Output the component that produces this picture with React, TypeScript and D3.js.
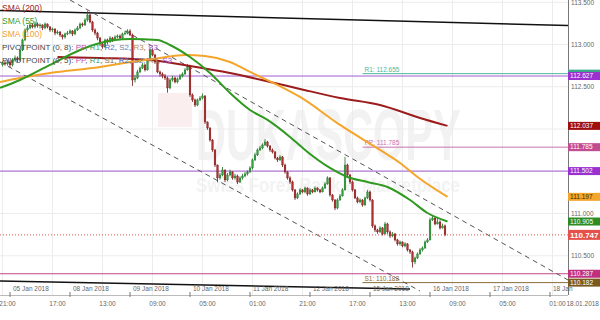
import React from 'react';
import * as d3 from 'd3';

// ---- DATA ----
const firstHour = -3; // hours relative to 05 Jan 2018 00:00 (trading hours only)
const firstOpen = 112.76;
const closes = [
  112.782,112.770,112.793,112.758,112.817,112.841,112.817,112.935,113.054,113.172,
  113.196,113.231,113.208,113.243,113.220,113.231,113.196,113.243,113.208,113.172,
  113.184,113.136,113.148,113.113,113.089,113.125,113.136,113.160,113.125,113.172,
  113.196,113.243,113.231,113.290,113.350,113.267,113.172,113.136,113.077,113.006,
  112.971,113.054,113.030,113.077,113.054,113.089,113.101,113.077,113.125,113.136,
  113.160,113.113,112.580,112.604,112.675,112.722,112.758,112.699,112.817,112.935,
  112.876,112.793,112.675,112.651,112.628,112.604,112.486,112.580,112.604,112.557,
  112.592,112.628,112.651,112.699,112.746,112.403,112.344,112.284,112.344,112.367,
  112.391,112.083,112.012,111.870,111.752,111.574,111.421,111.456,111.515,111.397,
  111.456,111.492,111.421,111.444,111.373,111.421,111.444,111.468,111.492,111.539,
  111.634,111.693,111.752,111.776,111.811,111.847,111.799,111.752,111.728,111.657,
  111.634,111.669,111.574,111.492,111.421,111.373,111.279,111.184,111.231,111.279,
  111.255,111.302,111.231,111.279,111.255,111.302,111.279,111.255,111.302,111.350,
  111.421,111.219,111.160,111.065,111.160,111.208,111.279,111.574,111.456,111.373,
  111.279,111.184,111.137,111.160,111.101,111.184,111.255,111.160,110.853,110.805,
  110.782,110.829,110.758,110.876,110.782,110.734,110.758,110.687,110.640,110.663,
  110.616,110.640,110.569,110.545,110.427,110.474,110.521,110.569,110.592,110.663,
  110.687,110.924,110.947,110.876,110.900,110.829,110.853,110.747,
];
const highs = [
  112.80,112.81,112.82,112.81,112.84,112.87,112.86,112.95,113.07,113.19,
  113.23,113.26,113.25,113.27,113.26,113.25,113.24,113.26,113.25,113.22,
  113.20,113.19,113.17,113.16,113.12,113.14,113.16,113.18,113.17,113.19,
  113.22,113.26,113.26,113.31,113.40,113.36,113.28,113.19,113.15,113.09,
  113.02,113.07,113.07,113.10,113.09,113.11,113.12,113.12,113.14,113.16,
  113.18,113.18,113.13,112.64,112.70,112.74,112.78,112.77,112.84,112.96,
  112.95,112.89,112.81,112.69,112.67,112.65,112.62,112.60,112.63,112.62,
  112.61,112.65,112.67,112.72,112.77,112.76,112.42,112.36,112.36,112.39,
  112.42,112.40,112.09,112.02,111.88,111.76,111.58,111.48,111.55,111.52,
  111.48,111.52,111.50,111.47,111.46,111.44,111.47,111.49,111.51,111.56,
  111.65,111.72,111.77,111.80,111.83,111.88,111.86,111.81,111.77,111.74,
  111.67,111.69,111.68,111.59,111.50,111.44,111.39,111.29,111.25,111.30,
  111.29,111.32,111.31,111.30,111.29,111.32,111.31,111.29,111.32,111.37,
  111.44,111.43,111.23,111.17,111.18,111.23,111.30,111.67,111.59,111.47,
  111.39,111.29,111.20,111.18,111.17,111.20,111.28,111.27,111.17,110.87,
  110.82,110.85,110.84,110.90,110.89,110.80,110.78,110.77,110.70,110.68,
  110.67,110.66,110.65,110.58,110.56,110.49,110.54,110.59,110.61,110.68,
  110.71,110.95,110.98,110.96,110.95,110.92,110.88,110.87,
];
const lows = [
  112.74,112.75,112.75,112.73,112.74,112.80,112.79,112.80,112.92,113.04,
  113.15,113.18,113.19,113.19,113.20,113.19,113.17,113.18,113.19,113.15,
  113.15,113.11,113.12,113.09,113.06,113.07,113.11,113.12,113.10,113.11,
  113.16,113.18,113.21,113.22,113.27,113.25,113.15,113.11,113.05,112.98,
  112.95,112.96,113.00,113.02,113.03,113.04,113.07,113.06,113.06,113.11,
  113.12,113.10,112.51,112.55,112.59,112.66,112.71,112.68,112.69,112.80,
  112.86,112.77,112.66,112.62,112.60,112.58,112.43,112.47,112.56,112.54,
  112.54,112.58,112.61,112.64,112.69,112.38,112.32,112.26,112.27,112.33,
  112.35,112.06,111.99,111.85,111.73,111.55,111.37,111.40,111.44,111.37,
  111.38,111.44,111.40,111.40,111.35,111.36,111.40,111.43,111.45,111.48,
  111.52,111.62,111.68,111.74,111.76,111.80,111.78,111.73,111.71,111.64,
  111.61,111.62,111.55,111.47,111.40,111.35,111.26,111.16,111.17,111.22,
  111.24,111.24,111.21,111.22,111.24,111.25,111.26,111.24,111.25,111.29,
  111.34,111.20,111.14,111.04,111.05,111.15,111.20,111.27,111.44,111.35,
  111.26,111.17,111.12,111.12,111.08,111.09,111.17,111.14,110.83,110.78,
  110.76,110.77,110.74,110.75,110.76,110.71,110.72,110.67,110.62,110.62,
  110.60,110.60,110.55,110.52,110.36,110.40,110.46,110.51,110.55,110.58,
  110.65,110.68,110.91,110.86,110.87,110.81,110.82,110.73,
];

// [hour, price]
const sma55 = [
  [-4,112.486],[4,112.580],[16,112.758],[28,112.935],[36,113.018],[48,113.065],[59,113.054],
  [64,112.994],[72,112.852],[80,112.663],[88,112.426],[96,112.225],[103,112.107],[112,111.906],
  [119,111.728],[128,111.539],[135,111.432],[143,111.373],[151,111.314],[160,111.160],
  [167,111.006],[175,110.905],
];
const sma100 = [
  [-4,112.557],[4,112.604],[16,112.663],[36,112.734],[48,112.793],[60,112.841],[70,112.876],
  [78,112.864],[88,112.793],[96,112.675],[107,112.521],[116,112.379],[132,112.048],
  [148,111.752],[156,111.598],[163,111.432],[175,111.197],
];
const sma200 = [
  [19,112.852],[36,112.841],[56,112.817],[72,112.746],[88,112.663],[104,112.557],
  [116,112.474],[132,112.367],[148,112.284],[164,112.131],[175,112.037],
];

// trend lines: [[h1,p1],[h2,p2]]
const solidLines = [
  [[-4,113.403],[223.2,113.225]],
  [[-4,110.202],[160,110.107]],
];
const dashedLines = [
  [[24,113.527],[223.2,110.213]],
  [[-4,112.793],[164,110.083]],
];

const fullLevels = [
  { v: 112.627, c: '#a35bd0' },
  { v: 111.502, c: '#a35bd0' },
  { v: 110.287, c: '#c0488e' },
];
const dailyStartHour = 141;
const dailyLevels = [
  { name: 'R1', v: 112.655, c: '#4db89a' },
  { name: 'PP', v: 111.785, c: '#c873b0' },
  { name: 'S1', v: 110.182, c: '#8a6d3b' },
];
const lastPrice = 110.747;

const boxLabels = [
  { v: 112.655, bg: '#3aa889', fg: '#fff' },
  { v: 112.627, bg: '#9b30d0', fg: '#fff' },
  { v: 112.037, bg: '#a00d0d', fg: '#fff' },
  { v: 111.785, bg: '#c24c92', fg: '#fff' },
  { v: 111.502, bg: '#9b30d0', fg: '#fff' },
  { v: 111.197, bg: '#f5a52a', fg: '#3a2a00' },
  { v: 110.905, bg: '#2e8b22', fg: '#fff' },
  { v: 110.287, bg: '#c0307e', fg: '#fff' },
  { v: 110.182, bg: '#7b5a1f', fg: '#fff' },
];

const priceTickValues = [113.5, 113.0, 112.5, 112.0, 111.5, 111.0, 110.5];
const dateLabels = ['05 Jan 2018','08 Jan 2018','09 Jan 2018','10 Jan 2018','11 Jan 2018','12 Jan 2018','15 Jan 2018','16 Jan 2018','17 Jan 2018','18 Jan'];
const timeLabels = ['21:00','17:00','13:00','09:00','05:00','01:00','21:00','17:00','13:00','09:00','05:00','01:00'];
const pivot8 = ['PP','R1','R2','S2','R3','S3'];
const pivot5 = ['PP','R1','S1','R2','S2','R3','S3'];
const pivotColors: Record<string,string> = {
  PP: '#c050b0', R1: '#30a070', S1: '#8b6b3b', R2: '#4a6ad0', S2: '#7a7a9a', R3: '#b09060', S3: '#a050d0',
};

// ---- LAYOUT ----
const W = 600, H = 320;
const plotR = 568, plotB = 295;
const font = '"Liberation Sans", Arial, sans-serif';

const x = d3.scaleLinear().domain([0, 24]).range([10, 70]);
const y = d3.scaleLinear().domain([113, 112]).range([44.5, 129]);

export default function App() {
  const candles = closes.map((c, i) => ({
    h: firstHour + i,
    o: i === 0 ? firstOpen : closes[i - 1],
    c,
    hi: highs[i],
    lo: lows[i],
  }));
  const line = d3.line<number[]>().x(d => x(d[0])).y(d => y(d[1])).curve(d3.curveMonotoneX);
  const allBoxes = [...boxLabels.map(b => b.v), lastPrice];
  // axis labels that are not covered by a coloured price box
  const visibleTicks = priceTickValues.filter(t => allBoxes.every(v => Math.abs(y(v) - y(t)) > 7));
  const timeTickHours = timeLabels.map((_, i) => -3 + 20 * i);
  const dateHours = dateLabels.map((_, i) => 24 * i);

  const pivotText = (items: string[]) =>
    items.map((it, i) => (
      <React.Fragment key={it + i}>
        <tspan fill={pivotColors[it]}>{it}</tspan>
        {i < items.length - 1 ? <tspan fill="#444">, </tspan> : null}
      </React.Fragment>
    ));

  return (
    <svg width={W} height={H} style={{ position: 'fixed', left: 0, top: 0, background: '#fff' }} fontFamily={font}>
      <defs>
        <clipPath id="plot"><rect x={0} y={0} width={plotR} height={plotB} /></clipPath>
      </defs>
      <rect x={0} y={0} width={W} height={H} fill="#fff" />

      {/* watermark */}
      <g>
        <rect x={158} y={93} width={34} height={34} fill="#fbeeee" />
        <text transform="translate(196,160) scale(0.575,1)" fontSize={72} fontWeight="bold" fill="#f2f2f2" textLength={460} lengthAdjust="spacingAndGlyphs">DUKASCOPY</text>
        <text transform="translate(196,192) scale(0.8,1)" fontSize={20} fontWeight="bold" fill="#f3f3f3" textLength={330} lengthAdjust="spacingAndGlyphs">Swiss Forex Bank &amp; Marketplace</text>
      </g>

      {/* grid */}
      {timeTickHours.map((h, i) => (
        <line key={'vg' + i} x1={x(h)} x2={x(h)} y1={0} y2={plotB} stroke="#ececec" strokeWidth={1} />
      ))}
      {priceTickValues.map((t, i) => (
        <line key={'hg' + i} x1={0} x2={plotR} y1={y(t)} y2={y(t)} stroke="#ececec" strokeWidth={1} />
      ))}

      <g clipPath="url(#plot)">
        {/* pivot levels */}
        {fullLevels.map((l, i) => (
          <line key={'fl' + i} x1={0} x2={plotR} y1={y(l.v)} y2={y(l.v)} stroke={l.c} strokeWidth={1} />
        ))}
        {dailyLevels.map((l, i) => (
          <g key={'dl' + i}>
            <line x1={x(dailyStartHour)} x2={plotR} y1={y(l.v)} y2={y(l.v)} stroke={l.c} strokeWidth={1} />
            <text x={x(dailyStartHour) + 2} y={y(l.v) - 2} fontSize={6.5} fill={l.c}>{`${l.name}: ${l.v.toFixed(3)}`}</text>
          </g>
        ))}

        {/* trend lines */}
        {solidLines.map((s, i) => (
          <line key={'sl' + i} x1={x(s[0][0])} y1={y(s[0][1])} x2={x(s[1][0])} y2={y(s[1][1])} stroke="#111" strokeWidth={1.5} />
        ))}
        {dashedLines.map((s, i) => (
          <line key={'dsl' + i} x1={x(s[0][0])} y1={y(s[0][1])} x2={x(s[1][0])} y2={y(s[1][1])} stroke="#555" strokeWidth={1} strokeDasharray="5,4" />
        ))}

        {/* candles */}
        {candles.map((d, i) => {
          const up = d.c >= d.o;
          const cx = x(d.h);
          const top = y(Math.max(d.o, d.c));
          const bot = y(Math.min(d.o, d.c));
          const stroke = up ? '#1f6b25' : '#6e1515';
          return (
            <g key={'c' + i}>
              <line x1={cx} x2={cx} y1={y(d.hi)} y2={y(d.lo)} stroke={stroke} strokeWidth={0.8} />
              <rect x={cx - 0.9} y={top} width={1.8} height={Math.max(0.8, bot - top)} fill={up ? '#35a040' : '#b03030'} stroke={stroke} strokeWidth={0.3} />
            </g>
          );
        })}

        {/* SMAs */}
        <path d={line(sma200) || ''} fill="none" stroke="#9b1c1c" strokeWidth={2} />
        <path d={line(sma100) || ''} fill="none" stroke="#f5a52a" strokeWidth={2} />
        <path d={line(sma55) || ''} fill="none" stroke="#2f9a1f" strokeWidth={2} />

        {/* last price */}
        <line x1={0} x2={plotR} y1={y(lastPrice)} y2={y(lastPrice)} stroke="#e05050" strokeWidth={1} strokeDasharray="1,2" />
      </g>

      {/* legend */}
      <g fontSize={8.5}>
        <text x={2} y={11} fill="#9b1c1c">SMA (200)</text>
        <text x={2} y={24} fill="#3a9a2a">SMA (55)</text>
        <text x={2} y={37} fill="#f0a030">SMA (100)</text>
        <text x={2} y={50} fill="#444" fontSize={8}>PIVOTPOINT (0, 8): {pivotText(pivot8)}</text>
        <text x={2} y={63} fill="#444" fontSize={8}>PIVOTPOINT (0, 5): {pivotText(pivot5)}</text>
      </g>

      {/* axes borders */}
      <line x1={plotR + 0.5} x2={plotR + 0.5} y1={0} y2={plotB} stroke="#777" strokeWidth={1} />
      <line x1={0} x2={plotR} y1={plotB + 0.5} y2={plotB + 0.5} stroke="#bbb" strokeWidth={1} />

      {/* right axis labels */}
      {visibleTicks.map((t, i) => (
        <text key={'pt' + i} x={571} y={y(t)} dy="0.35em" fontSize={6.5} fill="#666">{t.toFixed(3)}</text>
      ))}
      {boxLabels.map((b, i) => (
        <g key={'bx' + i}>
          <rect x={568} y={y(b.v) - 4} width={32} height={8} fill={b.bg} />
          {i === 0 ? null : <text x={570} y={y(b.v)} dy="0.35em" fontSize={6.5} fill={b.fg}>{b.v.toFixed(3)}</text>}
        </g>
      ))}
      <rect x={568} y={y(lastPrice) - 5} width={32} height={10} fill="#e4514b" />
      <text x={570} y={y(lastPrice)} dy="0.36em" fontSize={8} fontWeight="bold" fill="#fff">{lastPrice.toFixed(3)}</text>

      {/* date axis */}
      {dateHours.map((h, i) => (
        <g key={'d' + i}>
          <line x1={x(h)} x2={x(h)} y1={292} y2={297} stroke="#777" strokeWidth={1} />
          <text x={x(h) + 3} y={291} fontSize={6.5} fill="#666">{dateLabels[i]}</text>
        </g>
      ))}
      {timeTickHours.map((h, i) => (
        <text key={'t' + i} x={x(h) + 5} y={306} fontSize={6.5} fill="#666" textAnchor="middle">{timeLabels[i]}</text>
      ))}
      <text x={599} y={306} fontSize={6.5} fill="#666" textAnchor="end">18.01.2018</text>
    </svg>
  );
}
